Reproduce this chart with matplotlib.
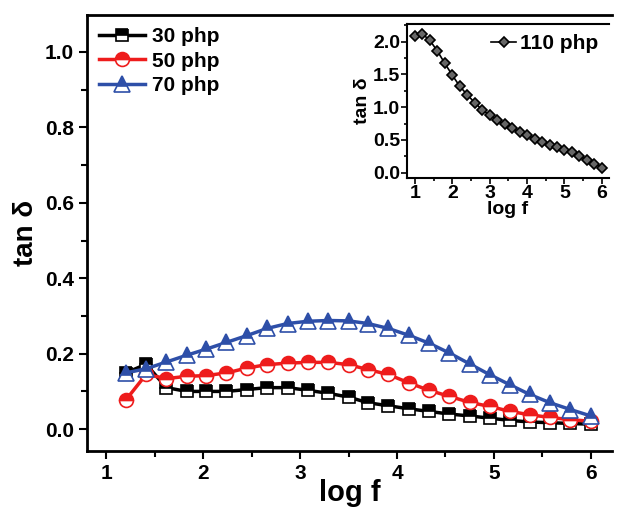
import matplotlib.pyplot as plt
from matplotlib.ticker import MultipleLocator

plt.rcParams['font.family'] = ['Liberation Sans', 'DejaVu Sans']
plt.rcParams['font.weight'] = 'bold'

# main plot data
logf = [1.20, 1.41, 1.62, 1.83, 2.03, 2.24, 2.45, 2.66, 2.87, 3.08, 3.29, 3.50,
        3.70, 3.91, 4.12, 4.33, 4.54, 4.75, 4.96, 5.17, 5.37, 5.58, 5.79, 6.00]
tan_30 = [0.149, 0.172, 0.110, 0.100, 0.100, 0.100, 0.105, 0.110, 0.110, 0.103,
          0.095, 0.085, 0.070, 0.062, 0.054, 0.047, 0.040, 0.035, 0.029, 0.023,
          0.019, 0.017, 0.015, 0.013]
tan_50 = [0.077, 0.145, 0.134, 0.140, 0.142, 0.149, 0.162, 0.171, 0.175, 0.177,
          0.177, 0.171, 0.158, 0.145, 0.123, 0.103, 0.087, 0.071, 0.060, 0.047,
          0.038, 0.031, 0.025, 0.021]
tan_70 = [0.149, 0.160, 0.178, 0.196, 0.212, 0.230, 0.248, 0.267, 0.280, 0.286,
          0.288, 0.287, 0.280, 0.267, 0.249, 0.228, 0.202, 0.173, 0.144, 0.117,
          0.092, 0.070, 0.052, 0.035]

# inset data (110 php)
logf_in = [1.0, 1.2, 1.4, 1.6, 1.8, 2.0, 2.2, 2.4, 2.6, 2.8, 3.0, 3.2, 3.4,
           3.6, 3.8, 4.0, 4.2, 4.4, 4.6, 4.8, 5.0, 5.2, 5.4, 5.6, 5.8, 6.0]
tan_110 = [2.08, 2.12, 2.02, 1.86, 1.67, 1.49, 1.32, 1.19, 1.07, 0.96, 0.88,
           0.80, 0.74, 0.68, 0.62, 0.57, 0.52, 0.47, 0.43, 0.39, 0.35, 0.31,
           0.25, 0.20, 0.14, 0.08]

fig = plt.figure(figsize=(6.17, 5.09), dpi=100)
ax = fig.add_axes([87/617, 1-451/509, (612-87)/617, (451-15)/509])

ax.plot(logf, tan_30, color='black', lw=2.5, marker='s', ms=9, fillstyle='top',
        mfc='black', mfcalt='white', mec='black', mew=1.2, label='30 php')
ax.plot(logf, tan_50, color='#ee1c1c', lw=2.5, marker='o', ms=10, fillstyle='top',
        mfc='#ee1c1c', mfcalt='white', mec='#ee1c1c', mew=1.2, label='50 php')
ax.plot(logf, tan_70, color='#2e4fa8', lw=2.5, marker='^', ms=11, fillstyle='top',
        mfc='#2e4fa8', mfcalt='white', mec='#2e4fa8', mew=1.2, label='70 php')

ax.set_xlim(0.8, 6.22)
ax.set_ylim(-0.058, 1.098)
ax.xaxis.set_major_locator(MultipleLocator(1))
ax.xaxis.set_minor_locator(MultipleLocator(0.5))
ax.yaxis.set_major_locator(MultipleLocator(0.2))
ax.yaxis.set_minor_locator(MultipleLocator(0.1))
ax.tick_params(which='both', direction='out', width=1.5, labelsize=15)
ax.tick_params(which='major', length=6)
ax.tick_params(which='minor', length=4)
ax.spines['top'].set_visible(False)
ax.spines['right'].set_visible(False)
for s in ['left', 'bottom']:
    ax.spines[s].set_linewidth(2)
ax.set_xlabel('log f', fontsize=21, fontweight='bold', labelpad=-3)
ax.set_ylabel('tan δ', fontsize=20, fontweight='bold', labelpad=4)
ax.legend(loc='upper left', frameon=False, fontsize=15, handlelength=2.2,
          handletextpad=0.3, labelspacing=0.25, borderaxespad=0.2,
          bbox_to_anchor=(0.0, 1.0))
# top frame line
ax.plot([0, 1], [1, 1], transform=ax.transAxes, color='black', lw=2, clip_on=False)

# inset
axi = fig.add_axes([407/617, 1-178/509, (609-407)/617, (178-24)/509])
axi.plot(logf_in, tan_110, color='black', lw=1.2, ls='-', marker='D', ms=5,
         mfc='#666666', mec='black', mew=1.2, label='110 php')
axi.set_xlim(0.79, 6.19)
axi.set_ylim(-0.08, 2.27)
axi.xaxis.set_major_locator(MultipleLocator(1))
axi.xaxis.set_minor_locator(MultipleLocator(0.5))
axi.yaxis.set_major_locator(MultipleLocator(0.5))
axi.yaxis.set_minor_locator(MultipleLocator(0.25))
axi.tick_params(which='both', direction='out', width=1.2, labelsize=14, pad=1)
axi.tick_params(which='major', length=4)
axi.tick_params(which='minor', length=2.5)
axi.spines['right'].set_visible(False)
for s in ['left', 'bottom', 'top']:
    axi.spines[s].set_linewidth(1.5)
axi.set_xlabel('log f', fontsize=14, fontweight='bold', labelpad=-1)
axi.set_ylabel('tan δ', fontsize=14, fontweight='bold', labelpad=1)
axi.legend(loc='upper right', frameon=False, fontsize=15, handlelength=1.2,
           handletextpad=0.2, borderaxespad=0.1)

plt.savefig('out.png', dpi=100)
